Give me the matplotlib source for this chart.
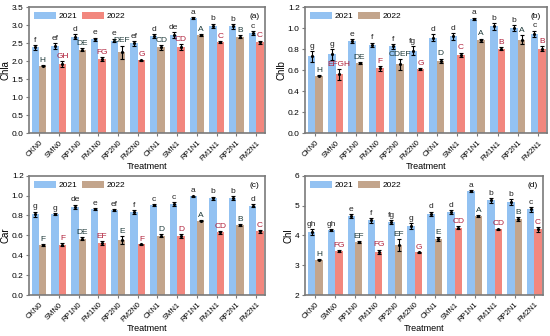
import matplotlib
matplotlib.use("Agg")
import matplotlib.pyplot as plt
import numpy as np

treatments = ["CKN0", "SMN0", "RP1N0", "FM1N0", "RP2N0", "FM2N0",
              "CKN1", "SMN1", "RP1N1", "FM1N1", "RP2N1", "FM2N1"]

# (a) Chla
chla_21 = [2.38, 2.42, 2.68, 2.60, 2.57, 2.49, 2.70, 2.72, 3.19, 2.98, 2.96, 2.78]
chla_22 = [1.87, 1.92, 2.32, 2.05, 2.25, 2.02, 2.38, 2.40, 2.72, 2.53, 2.68, 2.52]
chla_21_err = [0.06, 0.08, 0.07, 0.05, 0.05, 0.06, 0.05, 0.08, 0.03, 0.06, 0.07, 0.06]
chla_22_err = [0.02, 0.08, 0.03, 0.05, 0.18, 0.02, 0.06, 0.08, 0.03, 0.03, 0.05, 0.05]
chla_21_let = ["f", "ef", "d", "e", "e", "ef", "d", "de", "a", "b", "b", "c"]
chla_22_let = ["H", "GH", "DE", "FG", "DEF", "G", "CD", "CD", "A", "C", "B", "C"]

# (b) Chlb
chlb_21 = [0.73, 0.75, 0.875, 0.84, 0.825, 0.785, 0.91, 0.92, 1.09, 1.015, 1.0, 0.945]
chlb_22 = [0.545, 0.56, 0.665, 0.615, 0.655, 0.61, 0.69, 0.745, 0.885, 0.805, 0.89, 0.805]
chlb_21_err = [0.05, 0.05, 0.02, 0.02, 0.02, 0.04, 0.03, 0.03, 0.01, 0.03, 0.03, 0.03]
chlb_22_err = [0.005, 0.05, 0.01, 0.02, 0.05, 0.01, 0.02, 0.02, 0.015, 0.01, 0.04, 0.02]
chlb_21_let = ["g", "g", "e", "f", "f", "fg", "d", "d", "a", "b", "b", "c"]
chlb_22_let = ["H", "EFGH", "DE", "F", "CDEF", "G", "D", "C", "A", "B", "A", "B"]

# (c) Car
car_21 = [0.81, 0.815, 0.89, 0.865, 0.855, 0.835, 0.905, 0.915, 0.995, 0.975, 0.975, 0.90]
car_22 = [0.50, 0.505, 0.565, 0.52, 0.55, 0.51, 0.595, 0.595, 0.745, 0.63, 0.705, 0.64]
car_21_err = [0.03, 0.01, 0.02, 0.01, 0.01, 0.02, 0.01, 0.02, 0.005, 0.015, 0.02, 0.015]
car_22_err = [0.01, 0.015, 0.015, 0.02, 0.04, 0.005, 0.015, 0.02, 0.005, 0.015, 0.01, 0.015]
car_21_let = ["g", "g", "de", "e", "ef", "f", "c", "c", "a", "b", "b", "d"]
car_22_let = ["F", "F", "DE", "EF", "E", "F", "D", "D", "A", "CD", "B", "C"]

# (d) Chl
chl_21 = [4.10, 4.17, 4.65, 4.50, 4.45, 4.30, 4.73, 4.78, 5.48, 5.18, 5.12, 4.88]
chl_22 = [3.18, 3.48, 3.77, 3.45, 3.68, 3.43, 3.87, 4.26, 4.65, 4.20, 4.55, 4.20]
chl_21_err = [0.10, 0.04, 0.06, 0.08, 0.07, 0.10, 0.07, 0.08, 0.03, 0.08, 0.10, 0.08]
chl_22_err = [0.02, 0.03, 0.04, 0.07, 0.20, 0.02, 0.06, 0.05, 0.03, 0.03, 0.07, 0.08]
chl_21_let = ["gh", "gh", "e", "f", "fg", "g", "d", "d", "a", "b", "b", "c"]
chl_22_let = ["H", "FG", "EF", "FG", "EF", "G", "E", "CD", "A", "CD", "B", "C"]

blue = "#93C2F2"
tan = "#C3A58C"
salmon = "#F2877E"
frame = "#7a7a7a"

plt.rcParams["font.family"] = ["Liberation Sans", "DejaVu Sans"]

fig = plt.figure(figsize=(5.5, 3.36), dpi=100)


def panel(rect, v21, v22, e21, e22, l21, l22, ylabel, ylim, yticks, fmt, tag, leg22):
    ax = fig.add_axes(rect)
    x = np.arange(len(treatments))
    w = 0.37
    c22 = [tan if i % 2 == 0 else salmon for i in range(len(x))]
    ax.bar(x - w / 2, v21, w, color=blue, label="2021")
    ax.bar(x + w / 2, v22, w, color=c22)
    ax.errorbar(x - w / 2, v21, yerr=e21, fmt=".", ms=2.5, color="black",
                elinewidth=0.8, capsize=1.5, capthick=0.8)
    ax.errorbar(x + w / 2, v22, yerr=e22, fmt=".", ms=2.5, color="black",
                elinewidth=0.8, capsize=1.5, capthick=0.8)
    span = ylim[1] - ylim[0]
    for i in range(len(x)):
        ax.text(x[i] - w / 2, v21[i] + e21[i] + span * 0.01, l21[i],
                ha="center", va="bottom", fontsize=6, color="#222222")
        col = "#b0203a" if i % 2 == 1 else "#1f3a3a"
        ax.text(x[i] + w / 2, v22[i] + e22[i] + span * 0.01, l22[i],
                ha="center", va="bottom", fontsize=6, color=col)
    ax.bar([0], [0], 0, color=leg22, label="2022")
    ax.set_xlim(-0.5, 11.45)
    ax.set_ylim(*ylim)
    ax.set_yticks(yticks)
    ax.yaxis.set_major_formatter(plt.FormatStrFormatter(fmt))
    ax.set_xticks(x)
    ax.set_xticklabels(treatments, rotation=45, ha="right",
                       rotation_mode="anchor", fontsize=5.5)
    ax.tick_params(axis="y", labelsize=6, length=2.5, pad=1.5, color=frame)
    ax.tick_params(axis="x", length=2.5, pad=2, color=frame)
    for s in ax.spines.values():
        s.set_color(frame)
        s.set_linewidth(1.2)
    ax.set_ylabel(ylabel, fontsize=7, labelpad=1)
    ax.set_xlabel("Treatment", fontsize=6.5, labelpad=0)
    ax.legend(loc="upper left", ncol=2, frameon=False, fontsize=6,
              handlelength=2.6, handleheight=0.9, columnspacing=0.6,
              handletextpad=0.3, borderaxespad=0.2)
    ax.text(0.975, 0.95, tag, transform=ax.transAxes, ha="right", va="top",
            fontsize=6)
    return ax


panel([0.053, 0.604, 0.429, 0.375], chla_21, chla_22, chla_21_err, chla_22_err,
      chla_21_let, chla_22_let, "Chla", (0, 3.5), np.arange(0, 3.51, 0.5),
      "%.1f", "(a)", salmon)
panel([0.555, 0.604, 0.44, 0.375], chlb_21, chlb_22, chlb_21_err, chlb_22_err,
      chlb_21_let, chlb_22_let, "Chlb", (0, 1.2), np.arange(0, 1.21, 0.2),
      "%.1f", "(b)", tan)
panel([0.053, 0.122, 0.429, 0.355], car_21, car_22, car_21_err, car_22_err,
      car_21_let, car_22_let, "Car", (0, 1.2), np.arange(0, 1.21, 0.2),
      "%.1f", "(c)", tan)
panel([0.555, 0.122, 0.433, 0.355], chl_21, chl_22, chl_21_err, chl_22_err,
      chl_21_let, chl_22_let, "Chl", (2, 6), np.arange(2, 6.1, 1),
      "%d", "(d)", tan)

fig.savefig("out.png", dpi=100)
